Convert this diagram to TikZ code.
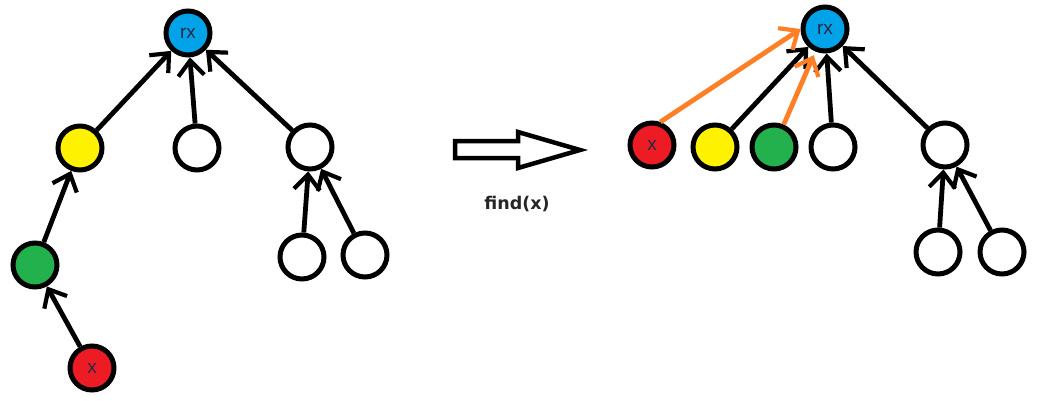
\documentclass[tikz,border=0pt]{standalone}
\usepackage{fontspec}
\setmainfont{Liberation Sans}
\newfontfamily\capfont{DejaVu Sans}
\usetikzlibrary{arrows.meta}
\definecolor{pblue}{RGB}{0,162,232}
\definecolor{pyellow}{RGB}{255,242,0}
\definecolor{pgreen}{RGB}{34,177,76}
\definecolor{pred}{RGB}{237,28,36}
\definecolor{porange}{RGB}{255,127,39}
\definecolor{ptext}{RGB}{40,40,70}
\tikzset{
  vert/.style={circle,draw=black,line width=5pt,minimum size=44pt,inner sep=0pt,
     font=\fontsize{19}{19}\selectfont,text=ptext},
  edge/.style={line width=4.8pt,-{Straight Barb[length=15pt,width=26pt,line width=4.2pt]}},
  oedge/.style={edge,draw=porange},
}
\begin{document}
\begin{tikzpicture}[x=1pt,y=-1pt]
\useasboundingbox (0,0) rectangle (1040,400);
% left tree
\node[vert,fill=pblue] (Lr) at (188,33) {rx};
\node[vert,fill=pyellow] (Ly) at (80,148) {};
\node[vert,fill=white] (Lm) at (197,148) {};
\node[vert,fill=white] (Lw) at (310,147) {};
\node[vert,fill=pgreen] (Lg) at (35,265) {};
\node[vert,fill=pred] (Lx) at (92,368) {x};
\node[vert,fill=white] (Lb1) at (302,257) {};
\node[vert,fill=white] (Lb2) at (365,255) {};
\draw[edge] (Ly) -- (Lr);
\draw[edge] (Lm) -- (Lr);
\draw[edge] (Lw) -- (Lr);
\draw[edge] (Lg) -- (Ly);
\draw[edge] (Lx) -- (Lg);
\draw[edge] (Lb1) -- (Lw);
\draw[edge] (Lb2) -- (Lw);
% block arrow
\draw[line width=4.5pt,line join=miter] (455,141) -- (518,141) -- (518,132) -- (580,150) -- (518,168) -- (518,158) -- (455,158) -- cycle;
\node[font=\capfont\bfseries\fontsize{17.5}{17.5}\selectfont,text=black!85] (cap) at (517,204) {find(x)};
% right tree
\node[vert,fill=pblue] (Rr) at (825,29) {rx};
\node[vert,fill=pred] (Rx) at (652,145) {x};
\node[vert,fill=pyellow] (Ry) at (715,147) {};
\node[vert,fill=pgreen] (Rg) at (774,147) {};
\node[vert,fill=white] (Rm) at (833,147) {};
\node[vert,fill=white] (Rw) at (945,145) {};
\node[vert,fill=white] (Rb1) at (938,252) {};
\node[vert,fill=white] (Rb2) at (1002,252) {};
\draw[edge] (Ry) -- (Rr);
\draw[edge] (Rm) -- (Rr);
\draw[edge] (Rw) -- (Rr);
\draw[edge] (Rb1) -- (Rw);
\draw[edge] (Rb2) -- (Rw);
\draw[oedge] (Rx.70) -- (Rr.west);
\draw[oedge,shorten >=4pt] (Rg) -- (Rr);
\end{tikzpicture}
\end{document}
